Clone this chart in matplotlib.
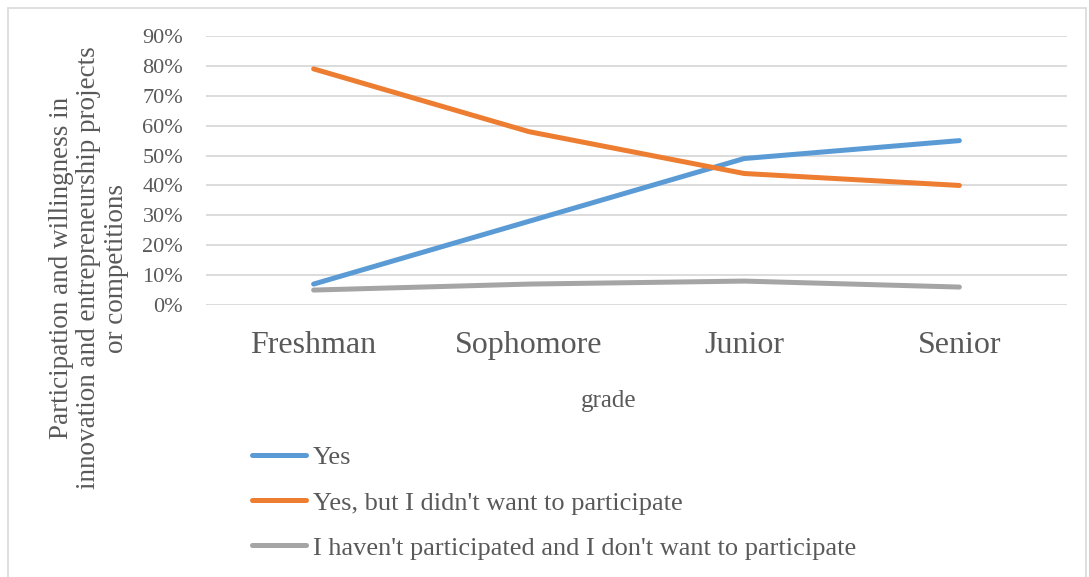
import matplotlib
matplotlib.use('Agg')
import matplotlib.pyplot as plt
from matplotlib.patches import Rectangle
from matplotlib.ticker import PercentFormatter

plt.rcParams['font.family'] = ['Liberation Serif', 'DejaVu Serif']

grades = ['Freshman', 'Sophomore', 'Junior', 'Senior']
yes = [0.07, 0.28, 0.49, 0.55]
yes_but = [0.79, 0.58, 0.44, 0.40]
no = [0.05, 0.07, 0.08, 0.06]
labels = ['Yes', "Yes, but I didn't want to participate",
          "I haven't participated and I don't want to participate"]
colors = ['#5B9BD5', '#ED7D31', '#A5A5A5']
txt = '#595959'

fig = plt.figure(figsize=(10.89, 5.77), dpi=100)
ax = fig.add_axes([206/1089, 1-305/577, 861/1089, 269/577])

x = range(len(grades))
for vals, lab, c in zip([yes, yes_but, no], labels, colors):
    ax.plot(x, vals, color=c, lw=3.6, label=lab, solid_capstyle='round', solid_joinstyle='round')

ax.set_xlim(-0.5, 3.5)
ax.set_ylim(0, 0.9)
ax.set_yticks([i/10 for i in range(10)])
ax.yaxis.set_major_formatter(PercentFormatter(1.0, decimals=0))
ax.set_xticks(list(x))
ax.set_xticklabels(grades)
ax.grid(axis='y', color='#D9D9D9', lw=1.3)
ax.set_axisbelow(True)
for s in ax.spines.values():
    s.set_visible(False)
ax.tick_params(axis='y', length=0, pad=16.5, labelsize=16, labelcolor=txt)
ax.tick_params(axis='x', length=0, pad=19, labelsize=23, labelcolor=txt)

fig.text(609/1089, 1-401/577, 'grade', ha='center', va='center', fontsize=18, color=txt)
fig.text(89/1089, 1-268/577,
         'Participation and willingness in\ninnovation and entrepreneurship projects\nor competitions',
         rotation=90, ha='center', va='center', multialignment='center',
         fontsize=19.5, color=txt, linespacing=1.13)

fig.legend(loc='upper left', bbox_to_anchor=(252/1089, 1-446/577), frameon=False,
           fontsize=19, labelcolor=txt, handlelength=2.05, handletextpad=0.27,
           labelspacing=0.82, borderpad=0, borderaxespad=0)

fig.patches.append(Rectangle((8/1089, -0.02), 1078/1089, 1.02-8/577, transform=fig.transFigure,
                             fill=False, edgecolor='#D9D9D9', lw=1.2))

fig.savefig('out.png', dpi=100)
